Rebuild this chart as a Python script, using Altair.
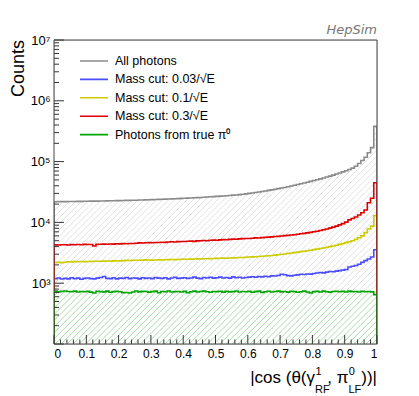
import math
import altair as alt
import pandas as pd

# ---------------- data (100 bins on |cos| in [0,1]) ----------------
series_names = ["All photons", "Mass cut: 0.03/√E", "Mass cut: 0.1/√E",
                "Mass cut: 0.3/√E", "Photons from true π⁰"]
series_colors = ["#8a8a8a", "#4b4bff", "#cccc00", "#e00000", "#00a600"]

all_photons = [
    21900, 21950, 22000, 21950, 22050, 22100, 22100, 22150, 22200, 22250,
    22300, 22350, 22400, 22400, 22500, 22550, 22600, 22650, 22700, 22800,
    22850, 22900, 23000, 23050, 23150, 23200, 23300, 23400, 23500, 23600,
    23700, 23800, 23900, 24000, 24150, 24250, 24400, 24500, 24650, 24800,
    24950, 25100, 25250, 25400, 25600, 25750, 25950, 26150, 26350, 26550,
    26800, 27000, 27250, 27500, 27750, 28050, 28300, 28600, 29000, 29500,
    30000, 30500, 31000, 31600, 32200, 32900, 33600, 34300, 35100, 35900,
    36700, 37600, 38600, 39700, 40800, 41900, 43100, 44400, 45800, 47200,
    48800, 50300, 52000, 53800, 55800, 57800, 60000, 62400, 65000, 67800,
    70800, 74100, 78000, 84000, 93000, 104000, 118000, 140000, 170000, 380000]

mass_cut_003 = [
    1190, 1220, 1170, 1200, 1180, 1230, 1190, 1210, 1160, 1200,
    1220, 1190, 1180, 1210, 1240, 1290, 1200, 1190, 1230, 1180,
    1210, 1200, 1240, 1190, 1220, 1210, 1180, 1230, 1200, 1220,
    1190, 1240, 1210, 1200, 1230, 1180, 1220, 1250, 1200, 1210,
    1230, 1200, 1220, 1260, 1210, 1190, 1240, 1220, 1250, 1210,
    1230, 1260, 1220, 1240, 1210, 1270, 1230, 1250, 1220, 1240,
    1260, 1280, 1250, 1290, 1270, 1300, 1280, 1320, 1310, 1340,
    1400, 1380, 1330, 1320, 1350, 1370, 1400, 1390, 1420, 1410,
    1440, 1470, 1500, 1480, 1520, 1560, 1540, 1580, 1610, 1640,
    1680, 1850, 1900, 1950, 2050, 2200, 2350, 2500, 2700, 3550]

mass_cut_01 = [
    2190, 2200, 2180, 2210, 2250, 2240, 2260, 2250, 2270, 2260,
    2280, 2270, 2290, 2300, 2290, 2310, 2320, 2300, 2330, 2340,
    2330, 2350, 2370, 2360, 2380, 2390, 2380, 2400, 2420, 2410,
    2400, 2410, 2420, 2410, 2430, 2440, 2450, 2440, 2460, 2470,
    2480, 2470, 2490, 2500, 2510, 2500, 2520, 2530, 2540, 2550,
    2560, 2570, 2580, 2570, 2600, 2610, 2620, 2640, 2650, 2670,
    2690, 2710, 2730, 2750, 2780, 2800, 2830, 2860, 2900, 2940,
    2990, 3030, 3080, 3130, 3180, 3240, 3300, 3360, 3420, 3490,
    3560, 3640, 3720, 3800, 3900, 4000, 4100, 4220, 4350, 4500,
    4650, 4800, 5000, 5250, 5600, 6000, 6800, 7800, 8700, 12900]

mass_cut_03 = [
    4270, 4250, 4300, 4280, 4240, 4310, 4290, 4330, 4300, 4350,
    4320, 4330, 4100, 4380, 4360, 4400, 4370, 4420, 4400, 4450,
    4430, 4480, 4460, 4510, 4490, 4540, 4600, 4580, 4620, 4650,
    4630, 4680, 4660, 4720, 4700, 4750, 4800, 4770, 4830, 4860,
    4840, 4900, 4930, 4880, 4960, 5000, 5040, 4980, 5080, 5120,
    5100, 5160, 5200, 5180, 5250, 5300, 5280, 5350, 5400, 5450,
    5430, 5500, 5560, 5540, 5620, 5680, 5720, 5780, 5850, 5900,
    5960, 6050, 6120, 6200, 6280, 6380, 6500, 6600, 6720, 6850,
    7000, 7150, 7350, 7550, 7800, 8050, 8350, 8700, 9100, 9550,
    10100, 11000, 11600, 12300, 13200, 14400, 16000, 21000, 25000, 45000]

true_pi0 = [
    740, 720, 735, 745, 730, 725, 740, 715, 730, 722,
    735, 712, 690, 738, 728, 720, 742, 710, 728, 735,
    725, 700, 705, 690, 715, 745, 720, 735, 730, 712,
    728, 740, 695, 730, 722, 745, 718, 726, 732, 715,
    735, 698, 724, 740, 716, 730, 742, 722, 708, 730,
    726, 738, 712, 735, 720, 728, 744, 716, 730, 722,
    734, 710, 728, 740, 706, 724, 736, 718, 730, 742,
    720, 732, 714, 738, 726, 708, 722, 740, 716, 690,
    728, 735, 718, 742, 724, 712, 730, 738, 722, 734,
    716, 740, 726, 732, 718, 736, 724, 730, 720, 650]

series_values = [all_photons, mass_cut_003, mass_cut_01, mass_cut_03, true_pi0]

x_major = [0, 0.1, 0.2, 0.3, 0.4, 0.5, 0.6, 0.7, 0.8, 0.9, 1]
x_minor = [round(i * 0.02, 2) for i in range(51) if i % 5]
y_labels = [1e3, 1e4, 1e5, 1e6, 1e7]
y_major = [1e2, 1e3, 1e4, 1e5, 1e6, 1e7]
y_minor = [m * 10 ** k for k in range(2, 7) for m in range(2, 10)]
Y_MIN, Y_MAX = 1e2, 1e7

W, H = 323, 304
LOG_SPAN = math.log10(Y_MAX) - math.log10(Y_MIN)

# ---------------- tables ----------------
nb = len(all_photons)
line_rows, area_rows = [], []
gray_top = max(all_photons)
green_top = max(true_pi0)
for name, vals in zip(series_names, series_values):
    xs = [0.0] + [i / nb for i in range(nb)] + [1.0, 1.0]
    ys = [Y_MIN] + list(vals) + [vals[-1], Y_MIN]
    for j, (xv, yv) in enumerate(zip(xs, ys)):
        line_rows.append({"series": name, "x": xv, "y": yv, "o": j})
    for j, (xv, yv) in enumerate(zip(xs[1:-1], ys[1:-1])):
        area_rows.append({"series": name, "x": xv, "y": yv, "base": Y_MIN,
                          "gtop": gray_top, "ptop": green_top, "o": j})
lines_df = pd.DataFrame(line_rows)
area_df = pd.DataFrame(area_rows)


# hatch pattern (decoration): 45-degree lines in pixel space, mapped to data units
def pix_y(v):
    return H * (1 - (math.log10(v) - math.log10(Y_MIN)) / LOG_SPAN)


def hatch_df(top_value, step=6.1):
    yt = pix_y(top_value)
    rows = []
    c = 0.0
    while c < W + H + step:
        rows.append({"hx1": (c - H) / W, "hy1": Y_MIN, "hx2": (c - yt) / W, "hy2": top_value})
        c += step
    return pd.DataFrame(rows)


xscale = alt.Scale(domain=[0, 1], nice=False, zero=False)
yscale = alt.Scale(type="log", domain=[Y_MIN, Y_MAX], nice=False)
xaxis = alt.Axis(values=x_major, format="~g", ticks=False, domain=False, grid=False,
                 title=None, labelFontSize=12, labelPadding=4, labelColor="#000",
                 labelFont="Liberation Sans")
yaxis = alt.Axis(values=y_labels, ticks=False, domain=False, grid=False, title=None,
                 labelExpr="'10' + ['⁰','¹','²','³','⁴','⁵','⁶','⁷'][round(log(datum.value)/LN10)]",
                 labelFontSize=13, labelPadding=4, labelColor="#000",
                 labelFont="Liberation Sans")
cscale = alt.Scale(domain=series_names, range=series_colors)
legend = alt.Legend(title=None, orient="none", legendX=25, legendY=13, symbolType="stroke",
                    symbolSize=784, symbolStrokeWidth=1.6, clipHeight=16, rowPadding=2.4,
                    labelFontSize=12.5, labelOffset=6, labelFont="Liberation Sans",
                    labelColor="#000", padding=0, labelLimit=400)

X = alt.X("x:Q", scale=xscale, axis=xaxis)
Y = alt.Y("y:Q", scale=yscale, axis=yaxis)

HX = alt.X("hx1:Q", scale=xscale, axis=xaxis)
HY = alt.Y("hy1:Q", scale=yscale, axis=yaxis)

gray_hatch = alt.Chart(hatch_df(gray_top)).mark_rule(
    color="#e0e0e0", strokeWidth=1, clip=True
).encode(x=HX, y=HY, x2="hx2:Q", y2="hy2:Q")

base = alt.Chart(area_df)
gray_mask = base.transform_filter(alt.datum.series == series_names[0]).mark_area(
    interpolate="step-after", fill="white", clip=True
).encode(x=X, y=Y, y2="gtop:Q")
green_clear = base.transform_filter(alt.datum.series == series_names[4]).mark_area(
    interpolate="step-after", fill="white", clip=True
).encode(x=X, y=alt.Y("base:Q", scale=yscale, axis=yaxis), y2="ptop:Q")
green_hatch = alt.Chart(hatch_df(green_top)).mark_rule(
    color="#a8daa8", strokeWidth=1, clip=True
).encode(x=HX, y=HY, x2="hx2:Q", y2="hy2:Q")
green_mask = base.transform_filter(alt.datum.series == series_names[4]).mark_area(
    interpolate="step-after", fill="white", clip=True
).encode(x=X, y=Y, y2="ptop:Q")

line_layers = []
for name in series_names:
    line_layers.append(
        alt.Chart(lines_df).transform_filter(alt.datum.series == name)
        .mark_line(interpolate="step-after", strokeWidth=1.6, clip=True)
        .encode(x=X, y=Y, color=alt.Color("series:N", scale=cscale, legend=legend),
                order="o:Q")
    )

TICK = "#333333"
one = pd.DataFrame({"k": [0]})
ymaj = alt.Chart(pd.DataFrame({"v": y_major})).mark_rule(color=TICK).encode(
    y=alt.Y("v:Q", scale=yscale, axis=yaxis), x=alt.value(0), x2=alt.value(10))
ymin = alt.Chart(pd.DataFrame({"v": y_minor})).mark_rule(color=TICK).encode(
    y=alt.Y("v:Q", scale=yscale, axis=yaxis), x=alt.value(0), x2=alt.value(5))
xmaj = alt.Chart(pd.DataFrame({"v": x_major})).mark_rule(color=TICK).encode(
    x=alt.X("v:Q", scale=xscale, axis=xaxis), y=alt.value(H), y2=alt.value(H - 9))
xmin = alt.Chart(pd.DataFrame({"v": x_minor})).mark_rule(color=TICK).encode(
    x=alt.X("v:Q", scale=xscale, axis=xaxis), y=alt.value(H), y2=alt.value(H - 4.5))

FRAME = "#444444"
frame = [
    alt.Chart(one).mark_rule(color=FRAME).encode(x=alt.value(0), y=alt.value(0), y2=alt.value(H)),
    alt.Chart(one).mark_rule(color=FRAME).encode(x=alt.value(W), y=alt.value(0), y2=alt.value(H)),
    alt.Chart(one).mark_rule(color=FRAME).encode(y=alt.value(0), x=alt.value(0), x2=alt.value(W)),
    alt.Chart(one).mark_rule(color=FRAME).encode(y=alt.value(H), x=alt.value(0), x2=alt.value(W)),
]


def label(text, x, y, size, align="left", baseline="alphabetic", **kw):
    return alt.Chart(pd.DataFrame({"t": [text]})).mark_text(
        align=align, baseline=baseline, fontSize=size, font="Liberation Sans",
        color=kw.pop("color", "#000"), **kw
    ).encode(x=alt.value(x), y=alt.value(y), text="t:N")


MAIN, SMALL = 17, 11
BL, SUP, SUB = 343, 335, 353
texts = [
    label("))|", 323, BL, MAIN, align="right"),
    label("LF", 307.3, SUB, SMALL, align="right"),
    label("0", 294.8, SUP, SMALL),
    label(", π", 294.5, BL, MAIN, align="right"),
    label("RF", 275.7, SUB, SMALL, align="right"),
    label("1", 261.5, SUP, SMALL),
    label("|cos (θ(γ", 261, BL, MAIN, align="right"),
    label("Counts", -35, 0, 18, align="right", baseline="middle", angle=270),
    alt.Chart(pd.DataFrame({"t": ["HepSim"]})).mark_text(
        align="right", baseline="alphabetic", fontSize=13, font="DejaVu Sans",
        fontStyle="italic", color="#777777").encode(
        x=alt.value(323), y=alt.value(-6), text="t:N"),
]

chart = alt.layer(
    gray_hatch, gray_mask, green_clear, green_hatch, green_mask,
    *line_layers, ymaj, ymin, xmaj, xmin, *frame, *texts
).properties(
    width=W, height=H,
    padding={"left": 46, "top": 32, "right": 34, "bottom": 52},
    autosize=alt.AutoSizeParams(type="none"),
).configure_view(
    stroke=None
).configure(
    font="Liberation Sans", background="white"
)

chart.save("out.html", embed_options={"renderer": "svg", "actions": False})
